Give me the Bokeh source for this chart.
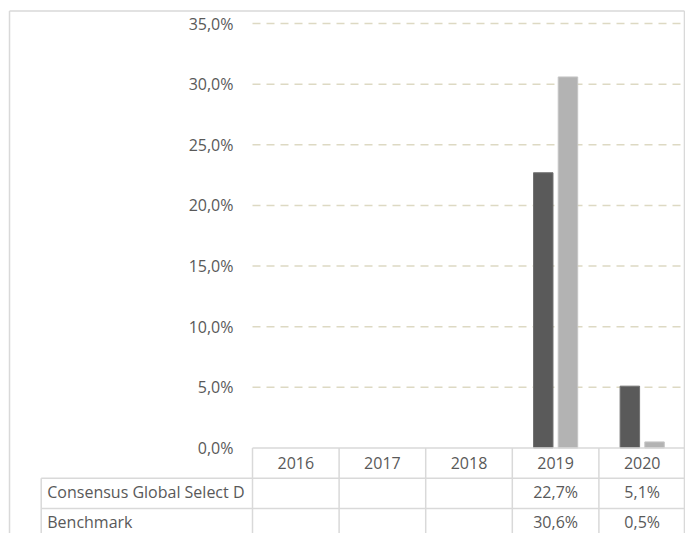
from bokeh.plotting import figure
from bokeh.models import Range1d
from bokeh.core.properties import value
from bokeh.embed import file_html
from bokeh.resources import INLINE

# ---- data ----
years = ["2016", "2017", "2018", "2019", "2020"]
series_names = ["Consensus Global Select D", "Benchmark"]
fund = [None, None, None, 22.7, 5.1]
bench = [None, None, None, 30.6, 0.5]
y_ticks = [0, 5, 10, 15, 20, 25, 30, 35]

# ---- styles ----
FONT = value("Open Sans")
TXT = "#595959"
LINE = "#d9d9d9"
DARK = "#5a5a5a"
LIGHT = "#b3b3b3"

def pct(v):
    return ("%.1f" % v).replace(".", ",") + "%"

W, H = 685, 533
p = figure(width=W, height=H, output_backend="svg", toolbar_location=None,
           x_range=Range1d(-2.910, 5.0), y_range=Range1d(-7.051, 36.904),
           x_axis_type=None, y_axis_type=None, min_border=0,
           min_border_left=0, min_border_right=0, min_border_top=0, min_border_bottom=0)
p.grid.visible = False
p.outline_line_color = None
p.background_fill_color = "white"
p.border_fill_color = "white"

n = len(years)
row_h = 2.49          # table row height in y units
left_col = -2.44      # left edge of label column

# chart border (left, top, right)
bl, br, bt, bb = -2.806, 4.988, 36.04, -8.0
p.segment(x0=[bl, bl, br], x1=[bl, br, br], y0=[bb, bt, bt], y1=[bt, bt, bb],
          line_color=LINE, line_width=1.5)

# gridlines (dashed)
grid_y = [t for t in y_ticks if t > 0]
p.segment(x0=[0] * len(grid_y), x1=[n] * len(grid_y), y0=grid_y, y1=grid_y,
          line_color="#ddd9c3", line_width=1.5, line_dash="8 6")

# y tick labels
p.text(x=[-0.22] * len(y_ticks), y=y_ticks, text=[pct(t) for t in y_ticks],
       text_font=FONT, text_font_size="16px", text_color=TXT,
       text_align="right", text_baseline="middle")

# bars
off, bw = 0.1426, 0.225
for vals, dx, col, lc in [(fund, -off, DARK, "#727272"), (bench, off, LIGHT, "#c6c6c6")]:
    xs = [i + 0.5 + dx for i, v in enumerate(vals) if v is not None]
    tops = [v for v in vals if v is not None]
    p.vbar(x=xs, top=tops, bottom=0, width=bw, fill_color=col, line_color=lc, line_width=1)

# table lines
bottom = -7.2
hy = [0, -row_h, -2 * row_h]
hx0 = [0, left_col, left_col]
p.segment(x0=hx0, x1=[n] * 3, y0=hy, y1=hy, line_color=LINE, line_width=1.5)
vx = list(range(n)) + [left_col]
vy0 = [0] * n + [-row_h]
p.segment(x0=vx, x1=vx, y0=vy0, y1=[bottom] * len(vx), line_color=LINE, line_width=1.5)

# header years
p.text(x=[i + 0.5 for i in range(n)], y=[-row_h / 2] * n, text=years,
       text_font=FONT, text_font_size="16px", text_color=TXT,
       text_align="center", text_baseline="middle")

# row labels and values
for r, (name, vals) in enumerate(zip(series_names, [fund, bench])):
    yc = -row_h * (r + 1.45)
    p.text(x=[left_col + 0.07], y=[yc], text=[name], text_font=FONT,
           text_font_size="16px", text_color=TXT, text_align="left", text_baseline="middle")
    xs = [i + 0.5 for i, v in enumerate(vals) if v is not None]
    ts = [pct(v) for v in vals if v is not None]
    p.text(x=xs, y=[yc] * len(xs), text=ts, text_font=FONT, text_font_size="16px",
           text_color=TXT, text_align="center", text_baseline="middle")

open("out.html", "w").write(file_html(p, INLINE))
